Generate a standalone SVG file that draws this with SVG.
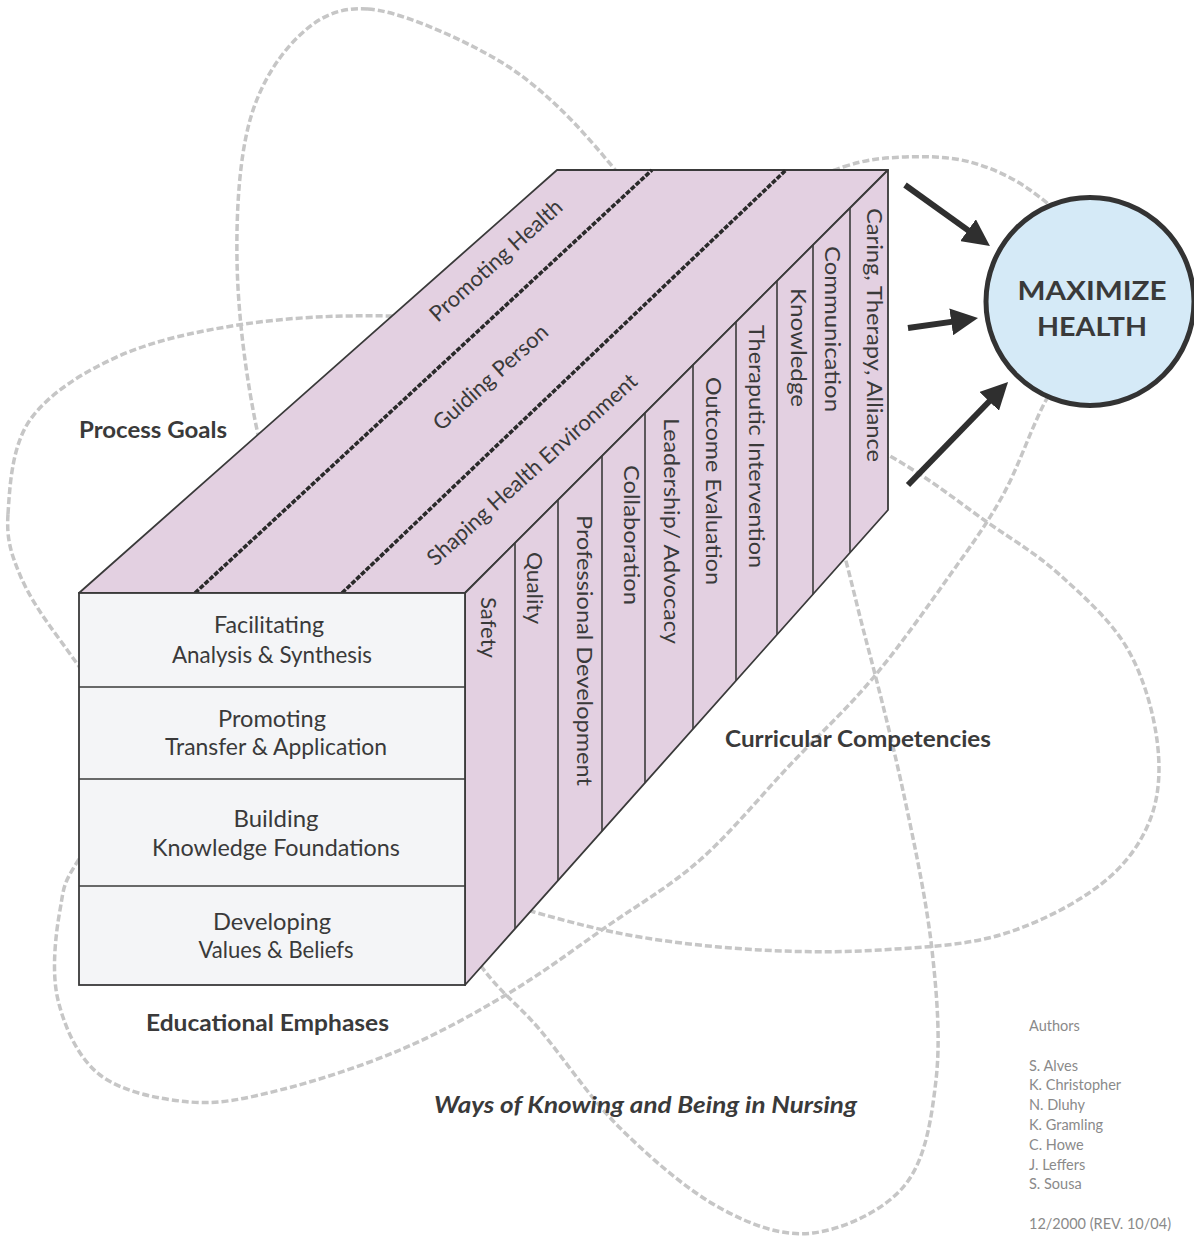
<svg xmlns="http://www.w3.org/2000/svg" width="1194" height="1238" viewBox="0 0 1194 1238">
<defs>
<style>
.loop{fill:none;stroke:#c6c6c6;stroke-width:3.5;stroke-dasharray:7 3}
.face{fill:#e3d0e1;stroke:#3a3a3a;stroke-width:1.8;stroke-linejoin:round}
.front{fill:#f4f5f7;stroke:#3a3a3a;stroke-width:1.8}
.div{stroke:#3a3a3a;stroke-width:1.6}
.dot{stroke:#2a2a2a;stroke-width:3.6;stroke-dasharray:5 1.6;fill:none}
.t{font-family:Lato,"Liberation Sans",sans-serif;fill:#3a3a3a}
.ff{font-size:23px}
.rf{font-size:22px}
.lbl{font-size:22px;font-weight:bold}
.au{font-family:Lato,"Liberation Sans",sans-serif;font-size:14.5px;fill:#8a8a8a}
.arr{stroke:#2f2f2f;stroke-width:6;fill:none;marker-end:url(#ah)}
</style>
<marker id="ah" viewBox="0 0 10 10" refX="2" refY="5" markerWidth="4.5" markerHeight="4.5" orient="auto" markerUnits="strokeWidth">
<path d="M0,0 L10,5 L0,10 z" fill="#2f2f2f"/>
</marker>
</defs>
<rect width="1194" height="1238" fill="#ffffff"/>

<g id="loops">
<path class="loop" d="M368,9 C397,11 443,31.3 474,47 C505,62.7 526.3,77.5 554,103 C581.7,128.5 609,162.2 640,200 C671,237.8 710,283.3 740,330 C770,376.7 799,428.3 820,480 C841,531.7 851.8,586.7 866,640 C880.2,693.3 894,748.3 905,800 C916,851.7 926.8,903.3 932,950 C937.2,996.7 940.5,1040.8 936,1080 C931.5,1119.2 925.5,1159.5 905,1185 C884.5,1210.5 843.8,1229.2 813,1233 C782.2,1236.8 752.2,1225.5 720,1208 C687.8,1190.5 650,1157.7 620,1128 C590,1098.3 565,1059.7 540,1030 C515,1000.3 496.7,991.7 470,950 C443.3,908.3 408.3,841.7 380,780 C351.7,718.3 320.8,640 300,580 C279.2,520 265.5,473.3 255,420 C244.5,366.7 237.8,310 237,260 C236.2,210 239.5,157.5 250,120 C260.5,82.5 280.3,53.5 300,35 C319.7,16.5 339,7 368,9 Z"/>
<path class="loop" d="M8,514 C9.7,488.2 11.5,446.3 30,420 C48.5,393.7 83.2,372 119,356 C154.8,340 199.7,330.7 245,324 C290.3,317.3 338.5,315 391,316 C443.5,317 501.8,318.5 560,330 C618.2,341.5 685.3,364.2 740,385 C794.7,405.8 846.8,432.2 888,455 C929.2,477.8 958.3,502 987,522 C1015.7,542 1036.7,554 1060,575 C1083.3,596 1110.8,620.5 1127,648 C1143.2,675.5 1153.2,711.3 1157,740 C1160.8,768.7 1159.5,795.8 1150,820 C1140.5,844.2 1125,865.8 1100,885 C1075,904.2 1036.7,924.2 1000,935 C963.3,945.8 920,947.5 880,950 C840,952.5 800,952.2 760,950 C720,947.8 677.7,943.3 640,937 C602.3,930.7 574,923.2 534,912 C494,900.8 449,890.3 400,870 C351,849.7 286.7,816.7 240,790 C193.3,763.3 150,735 120,710 C90,685 76.7,662.5 60,640 C43.3,617.5 28.7,596 20,575 C11.3,554 6.3,539.8 8,514 Z"/>
<path class="loop" d="M843,167 C867.2,159 883.8,157.8 905,157 C926.2,156.2 949.2,156.5 970,162 C990.8,167.5 1011.7,177 1030,190 C1048.3,203 1068.7,220 1080,240 C1091.3,260 1103.8,283 1098,310 C1092.2,337 1060.8,371.2 1045,402 C1029.2,432.8 1018.8,466.2 1003,495 C987.2,523.8 971.7,544.5 950,575 C928.3,605.5 899.7,646.3 873,678 C846.3,709.7 818.8,734.7 790,765 C761.2,795.3 730.7,833 700,860 C669.3,887 637.8,904.8 606,927 C574.2,949.2 543.3,972.5 509,993 C474.7,1013.5 438.2,1033.8 400,1050 C361.8,1066.2 315,1081.3 280,1090 C245,1098.7 220,1104.5 190,1102 C160,1099.5 122,1092 100,1075 C78,1058 64.7,1027.5 58,1000 C51.3,972.5 55.5,935 60,910 C64.5,885 61.7,885 85,850 C108.3,815 147.5,761.7 200,700 C252.5,638.3 330,548.3 400,480 C470,411.7 560,335.8 620,290 C680,244.2 722.8,225.5 760,205 C797.2,184.5 818.8,175 843,167 Z"/>
</g>

<g id="box">
<g id="top-face">
<polygon class="face" points="79,593 465,593 888,170 557,170"/>
<line class="dot" x1="195" y1="593" x2="652" y2="170"/>
<line class="dot" x1="342" y1="593" x2="786" y2="170"/>
<text class="t rf" text-anchor="middle" textLength="170" lengthAdjust="spacingAndGlyphs" transform="translate(501,266) rotate(-42)">Promoting Health</text>
<text class="t rf" text-anchor="middle" textLength="146" lengthAdjust="spacingAndGlyphs" transform="translate(495.5,383) rotate(-42)">Guiding Person</text>
<text class="t rf" text-anchor="middle" textLength="274" lengthAdjust="spacingAndGlyphs" transform="translate(537,475) rotate(-42)">Shaping Health Environment</text>
</g>
<g id="right-face">
<polygon class="face" points="465,593 888,170 888,510 465,985"/>
<line class="div" x1="515" y1="543" x2="515" y2="928.9"/>
<line class="div" x1="558" y1="500" x2="558" y2="880.6"/>
<line class="div" x1="602" y1="456" x2="602" y2="831.2"/>
<line class="div" x1="645" y1="413" x2="645" y2="782.9"/>
<line class="div" x1="693" y1="365" x2="693" y2="729"/>
<line class="div" x1="736" y1="322" x2="736" y2="680.7"/>
<line class="div" x1="777" y1="281" x2="777" y2="634.7"/>
<line class="div" x1="813" y1="245" x2="813" y2="594.2"/>
<line class="div" x1="850" y1="208" x2="850" y2="552.7"/>
<text class="t rf" textLength="61" lengthAdjust="spacingAndGlyphs" transform="translate(481,597) rotate(90)">Safety</text>
<text class="t rf" textLength="72" lengthAdjust="spacingAndGlyphs" transform="translate(527,552) rotate(90)">Quality</text>
<text class="t rf" textLength="271" lengthAdjust="spacingAndGlyphs" transform="translate(577,515) rotate(90)">Professional Development</text>
<text class="t rf" textLength="140" lengthAdjust="spacingAndGlyphs" transform="translate(624,465) rotate(90)">Collaboration</text>
<text class="t rf" textLength="226" lengthAdjust="spacingAndGlyphs" transform="translate(664,418) rotate(90)">Leadership/ Advocacy</text>
<text class="t rf" textLength="208" lengthAdjust="spacingAndGlyphs" transform="translate(706,377) rotate(90)">Outcome Evaluation</text>
<text class="t rf" textLength="243" lengthAdjust="spacingAndGlyphs" transform="translate(749,325) rotate(90)">Theraputic Intervention</text>
<text class="t rf" textLength="119" lengthAdjust="spacingAndGlyphs" transform="translate(791,288) rotate(90)">Knowledge</text>
<text class="t rf" textLength="166" lengthAdjust="spacingAndGlyphs" transform="translate(825,246) rotate(90)">Communication</text>
<text class="t rf" textLength="254" lengthAdjust="spacingAndGlyphs" transform="translate(867,208) rotate(90)">Caring, Therapy, Alliance</text>
</g>
<g id="front-face">
<rect class="front" x="79" y="593" width="386" height="392"/>
<line class="div" x1="79" y1="687" x2="465" y2="687"/>
<line class="div" x1="79" y1="779" x2="465" y2="779"/>
<line class="div" x1="79" y1="886" x2="465" y2="886"/>
<text class="t ff" x="269" y="633" text-anchor="middle" textLength="110" lengthAdjust="spacingAndGlyphs">Facilitating</text>
<text class="t ff" x="272" y="663" text-anchor="middle" textLength="200" lengthAdjust="spacingAndGlyphs">Analysis &amp; Synthesis</text>
<text class="t ff" x="272" y="727" text-anchor="middle" textLength="108" lengthAdjust="spacingAndGlyphs">Promoting</text>
<text class="t ff" x="276" y="755" text-anchor="middle" textLength="222" lengthAdjust="spacingAndGlyphs">Transfer &amp; Application</text>
<text class="t ff" x="276" y="827" text-anchor="middle" textLength="85" lengthAdjust="spacingAndGlyphs">Building</text>
<text class="t ff" x="276" y="856" text-anchor="middle" textLength="248" lengthAdjust="spacingAndGlyphs">Knowledge Foundations</text>
<text class="t ff" x="272" y="930" text-anchor="middle" textLength="118" lengthAdjust="spacingAndGlyphs">Developing</text>
<text class="t ff" x="276" y="958" text-anchor="middle" textLength="155" lengthAdjust="spacingAndGlyphs">Values &amp; Beliefs</text>
</g>
</g>

<g id="maximize-health">
<circle cx="1090" cy="301.5" r="104" fill="#d5eaf7" stroke="#333" stroke-width="5"/>
<text class="t" x="1092" y="300" text-anchor="middle" font-size="26" font-weight="bold" textLength="149" lengthAdjust="spacingAndGlyphs">MAXIMIZE</text>
<text class="t" x="1092" y="336" text-anchor="middle" font-size="26" font-weight="bold" textLength="110" lengthAdjust="spacingAndGlyphs">HEALTH</text>
</g>

<g id="connectors">
<line class="arr" x1="905" y1="185" x2="972.4" y2="233.4"/>
<line class="arr" x1="908" y1="328" x2="956.6" y2="321.1"/>
<line class="arr" x1="908" y1="485" x2="993" y2="397.5"/>
</g>

<g id="labels">
<text class="t lbl" x="79" y="438" textLength="148" lengthAdjust="spacingAndGlyphs">Process Goals</text>
<text class="t lbl" x="725" y="747" textLength="266" lengthAdjust="spacingAndGlyphs">Curricular Competencies</text>
<text class="t lbl" x="146" y="1031" textLength="243" lengthAdjust="spacingAndGlyphs">Educational Emphases</text>
<text class="t lbl" x="434" y="1113" font-style="italic" textLength="423" lengthAdjust="spacingAndGlyphs">Ways of Knowing and Being in Nursing</text>
</g>

<g id="authors">
<text class="au" x="1029" y="1031">Authors</text>
<text class="au" x="1029" y="1071">S. Alves</text>
<text class="au" x="1029" y="1090">K. Christopher</text>
<text class="au" x="1029" y="1110">N. Dluhy</text>
<text class="au" x="1029" y="1130">K. Gramling</text>
<text class="au" x="1029" y="1150">C. Howe</text>
<text class="au" x="1029" y="1170">J. Leffers</text>
<text class="au" x="1029" y="1189">S. Sousa</text>
<text class="au" x="1029" y="1229">12/2000 (REV. 10/04)</text>
</g>
</svg>
